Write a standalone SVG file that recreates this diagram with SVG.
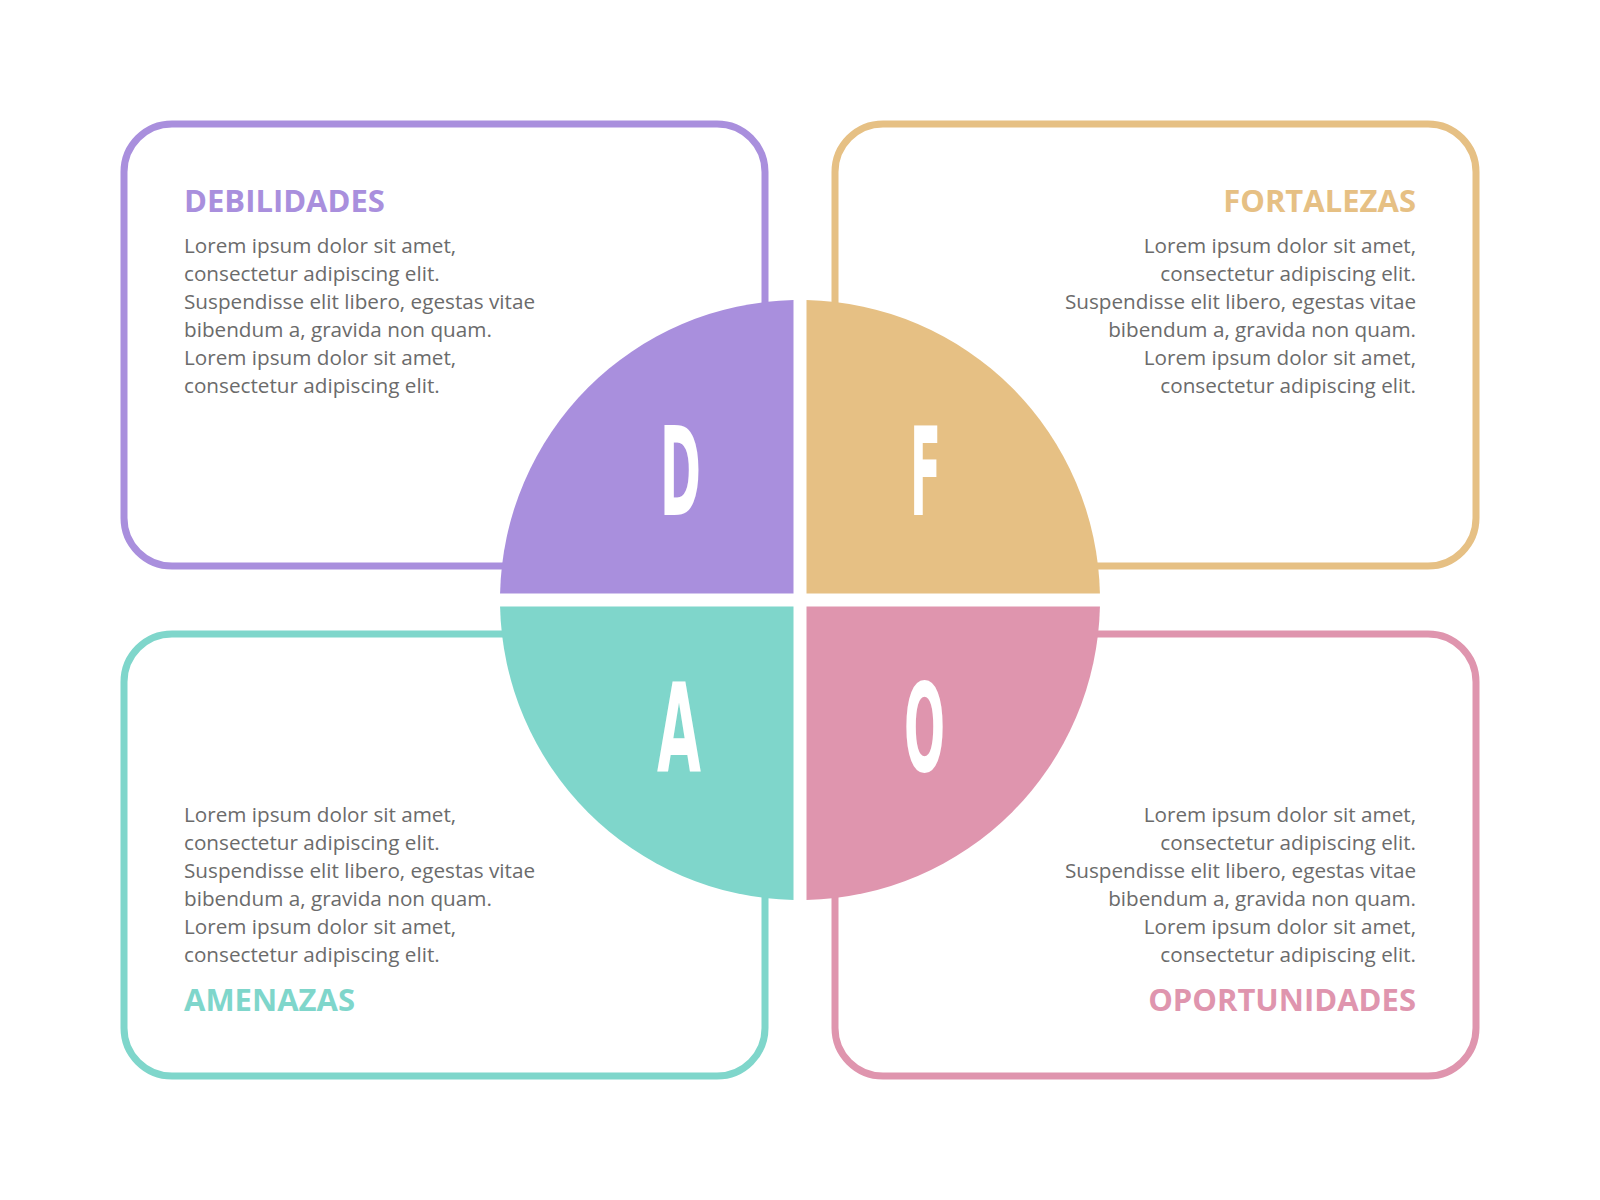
<svg xmlns="http://www.w3.org/2000/svg" width="1600" height="1200" viewBox="0 0 1600 1200">
  <style>
    .box { fill: #ffffff; stroke-width: 7; }
    .title { font-family: "Open Sans", "Liberation Sans", sans-serif; font-weight: 700; font-size: 31px; }
    .body { font-family: "Open Sans", "Liberation Sans", sans-serif; font-size: 20.7px; fill: #6b6b6b; }
    .letter { font-family: "DejaVu Sans", "Liberation Sans", sans-serif; font-weight: 700; font-size: 123px; fill: #ffffff; }
    .purple { stroke: #a98fdd; } .purpleF { fill: #a98fdd; }
    .orange { stroke: #e6c084; } .orangeF { fill: #e6c084; }
    .teal { stroke: #7fd6cb; } .tealF { fill: #7fd6cb; }
    .pink { stroke: #df95ae; } .pinkF { fill: #df95ae; }
  </style>
  <rect x="0" y="0" width="1600" height="1200" fill="#ffffff"/>

  <g id="debilidades">
    <rect class="box purple" x="124" y="124" width="641" height="442" rx="48" ry="48"/>
    <text class="title purpleF" x="184" y="212">DEBILIDADES</text>
    <text class="body"><tspan x="184" y="252.5">Lorem ipsum dolor sit amet,</tspan><tspan x="184" y="280.5">consectetur adipiscing elit.</tspan><tspan x="184" y="308.5">Suspendisse elit libero, egestas vitae</tspan><tspan x="184" y="336.5">bibendum a, gravida non quam.</tspan><tspan x="184" y="364.5">Lorem ipsum dolor sit amet,</tspan><tspan x="184" y="392.5">consectetur adipiscing elit.</tspan></text>
  </g>

  <g id="fortalezas">
    <rect class="box orange" x="835" y="124" width="641" height="442" rx="48" ry="48"/>
    <text class="title orangeF" x="1416" y="212" text-anchor="end">FORTALEZAS</text>
    <text class="body" text-anchor="end"><tspan x="1416" y="252.5">Lorem ipsum dolor sit amet,</tspan><tspan x="1416" y="280.5">consectetur adipiscing elit.</tspan><tspan x="1416" y="308.5">Suspendisse elit libero, egestas vitae</tspan><tspan x="1416" y="336.5">bibendum a, gravida non quam.</tspan><tspan x="1416" y="364.5">Lorem ipsum dolor sit amet,</tspan><tspan x="1416" y="392.5">consectetur adipiscing elit.</tspan></text>
  </g>

  <g id="amenazas">
    <rect class="box teal" x="124" y="634" width="641" height="442" rx="48" ry="48"/>
    <text class="body"><tspan x="184" y="821.5">Lorem ipsum dolor sit amet,</tspan><tspan x="184" y="849.5">consectetur adipiscing elit.</tspan><tspan x="184" y="877.5">Suspendisse elit libero, egestas vitae</tspan><tspan x="184" y="905.5">bibendum a, gravida non quam.</tspan><tspan x="184" y="933.5">Lorem ipsum dolor sit amet,</tspan><tspan x="184" y="961.5">consectetur adipiscing elit.</tspan></text>
    <text class="title tealF" x="184" y="1011">AMENAZAS</text>
  </g>

  <g id="oportunidades">
    <rect class="box pink" x="835" y="634" width="641" height="442" rx="48" ry="48"/>
    <text class="body" text-anchor="end"><tspan x="1416" y="821.5">Lorem ipsum dolor sit amet,</tspan><tspan x="1416" y="849.5">consectetur adipiscing elit.</tspan><tspan x="1416" y="877.5">Suspendisse elit libero, egestas vitae</tspan><tspan x="1416" y="905.5">bibendum a, gravida non quam.</tspan><tspan x="1416" y="933.5">Lorem ipsum dolor sit amet,</tspan><tspan x="1416" y="961.5">consectetur adipiscing elit.</tspan></text>
    <text class="title pinkF" x="1416" y="1011" text-anchor="end">OPORTUNIDADES</text>
  </g>

  <g id="circle">
    <g id="quadrant-d">
      <path class="purpleF" d="M793.5 593.5 L793.5 300.07 A300 300 0 0 0 500.07 593.5 Z"/>
      <text class="letter" x="660" y="515" textLength="41" lengthAdjust="spacingAndGlyphs">D</text>
    </g>
    <g id="quadrant-f">
      <path class="orangeF" d="M806.5 593.5 L806.5 300.07 A300 300 0 0 1 1099.93 593.5 Z"/>
      <text class="letter" x="910" y="515" textLength="31" lengthAdjust="spacingAndGlyphs">F</text>
    </g>
    <g id="quadrant-a">
      <path class="tealF" d="M793.5 606.5 L500.07 606.5 A300 300 0 0 0 793.5 899.93 Z"/>
      <text class="letter" x="657" y="771" textLength="44" lengthAdjust="spacingAndGlyphs">A</text>
    </g>
    <g id="quadrant-o">
      <path class="pinkF" d="M806.5 606.5 L806.5 899.93 A300 300 0 0 0 1099.93 606.5 Z"/>
      <text class="letter" x="904" y="771" textLength="41" lengthAdjust="spacingAndGlyphs">O</text>
    </g>
  </g>
</svg>
